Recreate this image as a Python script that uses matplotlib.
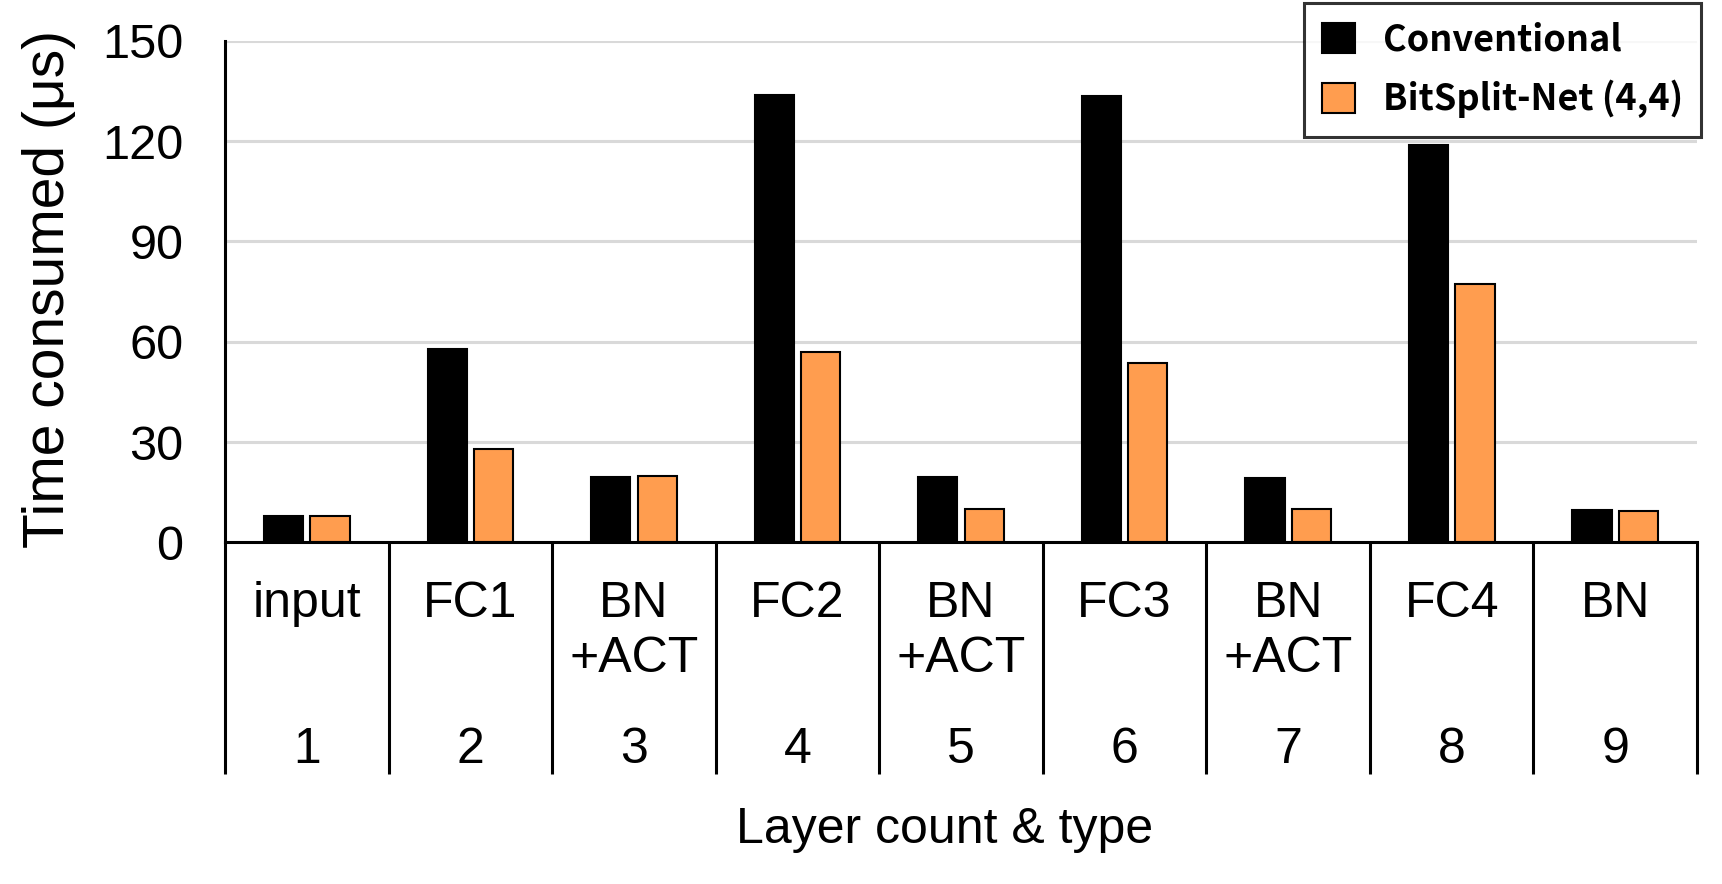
import matplotlib.pyplot as plt
import matplotlib.transforms as mtransforms
import numpy as np

# Chart data.
layerNames = ["input", "FC1", "BN\n+ACT", "FC2", "BN\n+ACT", "FC3", "BN\n+ACT", "FC4", "BN"]
layerCounts = ["1", "2", "3", "4", "5", "6", "7", "8", "9"]
conventional = [7.8, 57.9, 19.7, 133.7, 19.7, 133.4, 19.3, 118.8, 9.7]
bitsplit = [7.8, 27.8, 20.0, 56.8, 10.0, 53.5, 10.0, 77.3, 9.4]
seriesNames = ["Conventional", "BitSplit-Net (4,4)"]
yTicks = [0, 30, 60, 90, 120, 150]

ORANGE = "#FF9D4F"
FONT = "Liberation Sans"
LEGEND_FONT = ["Noto Sans CJK KR", "DejaVu Sans"]

fig = plt.figure(figsize=(17.22, 8.84), dpi=100)
ax = fig.add_axes([0.1307, 0.3864, 0.8548, 0.5676])

x = np.arange(len(layerNames))
barWidth = 0.24
ax.bar(x - 0.142, conventional, barWidth, color="black", edgecolor="black",
       linewidth=1.5, label=seriesNames[0], zorder=3)
ax.bar(x + 0.142, bitsplit, barWidth, color=ORANGE, edgecolor="black",
       linewidth=1.5, label=seriesNames[1], zorder=3)

ax.set_xlim(-0.5, len(layerNames) - 0.5)
ax.set_ylim(0, 150)
ax.set_yticks(yTicks)
ax.set_yticklabels([str(t) for t in yTicks], fontsize=35, family=FONT)
ax.tick_params(axis="y", length=0, pad=30)
ax.set_xticks([])
ax.yaxis.grid(True, color="#d9d9d9", linewidth=2.2, zorder=0)
ax.set_axisbelow(True)

for side in ["top", "right"]:
    ax.spines[side].set_visible(False)
ax.spines["left"].set_linewidth(2.2)
ax.spines["bottom"].set_linewidth(2.2)
ax.spines["left"].set_zorder(4)
ax.spines["bottom"].set_zorder(4)

# Table-like category area under the axis.
trans = mtransforms.blended_transform_factory(ax.transData, ax.transAxes)
for b in np.arange(-0.5, len(layerNames), 1.0):
    ax.plot([b, b], [0, -0.4616], transform=trans, color="black",
            linewidth=2.2, clip_on=False, solid_capstyle="butt")

for i in range(len(layerNames)):
    ax.text(x[i], -0.076, layerNames[i], transform=trans, ha="center", va="top",
            fontsize=36, family=FONT, linespacing=1.27)
    ax.text(x[i], -0.413, layerCounts[i], transform=trans, ha="center", va="center",
            fontsize=36, family=FONT)

fig.text(0.5485, 1 - 830 / 884, "Layer count & type", ha="center", va="center",
         fontsize=36, family=FONT)
fig.text(0.0287, 0.673, "Time consumed (μs)", ha="center", va="center",
         rotation=90, fontsize=41, family=FONT)

leg = ax.legend(loc="upper right", bbox_to_anchor=(1.003, 1.0745),
                prop={"family": LEGEND_FONT, "weight": "bold", "size": 26},
                frameon=True, fancybox=False, edgecolor="black",
                handlelength=0.92, handleheight=0.92, handletextpad=0.78,
                borderpad=0.5, labelspacing=0.6, borderaxespad=0)
leg.get_frame().set_linewidth(2.2)
leg.set_zorder(10)

fig.savefig("out.png", dpi=100, facecolor="white")
